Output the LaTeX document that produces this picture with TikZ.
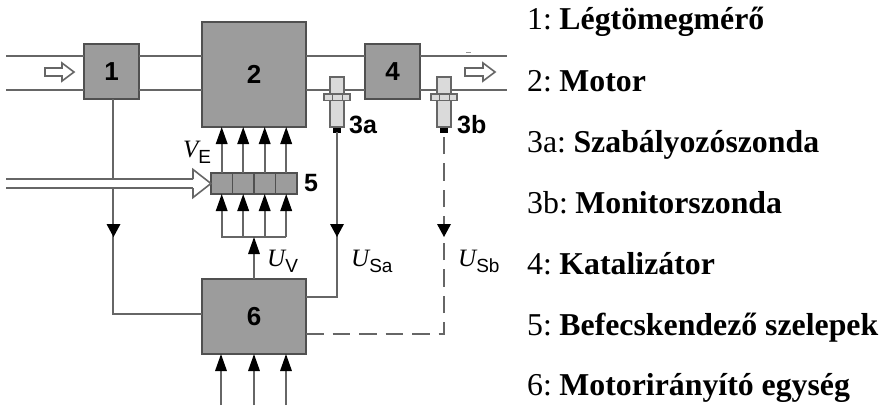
\documentclass[tikz,border=0pt]{standalone}
\usepackage{fontspec}
\setmainfont{Liberation Serif}
\newfontfamily\hv{Liberation Sans}
\usetikzlibrary{arrows.meta}
\definecolor{ln}{HTML}{666666}
\definecolor{bx}{HTML}{9C9C9C}
\definecolor{bxd}{HTML}{505050}
\definecolor{snd}{HTML}{DADADA}
\tikzset{
 x=1pt,y=-1pt,
 conn/.style={draw=ln,line width=1.7pt},
 sig/.style={conn,-{Triangle[length=17pt,width=11.5pt,color=black]}},
 dashwire/.style={conn,dash pattern=on 17.5pt off 9pt},
 block/.style={draw=bxd,fill=bx,line width=1.6pt,inner sep=0,outer sep=0,font=\hv\bfseries\fontsize{26}{26}\selectfont},
 cell/.style={draw=bxd,fill=bx,line width=1.6pt,inner sep=0,outer sep=0,minimum width=21.5pt,minimum height=21pt},
 sens/.style={draw=ln,fill=snd,line width=1.3pt},
 tag/.style={font=\hv\bfseries\fontsize{25}{25}\selectfont,inner sep=0},
 sym/.style={font=\fontsize{25}{25}\selectfont,inner sep=0,anchor=base west},
 leg/.style={font=\fontsize{31.8}{34}\selectfont,inner sep=0,anchor=base west},
 hollow/.style={draw=ln,fill=white,line width=1.6pt,line join=miter},
}
\newcommand{\symtxt}[2]{{\itshape #1}\raisebox{-6.5pt}{\hv\fontsize{19}{19}\selectfont #2}}
\newcommand{\legitem}[2]{#1:\hspace{7.5pt}\textbf{#2}}
\begin{document}
\begin{tikzpicture}
\useasboundingbox (0,0) rectangle (882,407);
\fill[white] (0,0) rectangle (882,407);
% free ends
\foreach \n/\x/\y in {pa/6/56,pb/6/90,pc/507/56,pd/507/90,ha/6/179,hb/6/188,hc/193/179,hd/193/188,ba/221/405,bb/254/405,bc/286/405,busa/221/237,busb/243/237,busc/265/237,busd/286/237,busm/254/237,cornA/113/314,cornB/337/297,cornC/444/334,tipA/337/132,tipB/444/132,gapa/113/179,gapb/113/188}
  \coordinate (\n) at (\x,\y);
% blocks
\node[block,minimum width=55pt,minimum height=55pt] (b1) at (111.5,71.5) {1};
\node[block,minimum width=104pt,minimum height=105pt] (b2) at (254,74.5) {2};
\node[block,minimum width=55pt,minimum height=55pt] (b4) at (392.5,71.5) {4};
\node[block,minimum width=104pt,minimum height=75pt] (b6) at (254,316.5) {6};
\node[cell] (c1) at (221.7,183.5) {};
\node[cell] (c2) at (243.2,183.5) {};
\node[cell] (c3) at (264.7,183.5) {};
\node[cell] (c4) at (286.2,183.5) {};
% pipes
\draw[conn] (pa) -- (pa-|b1.west) (pb) -- (pb-|b1.west);
\draw[conn] (pa-|b1.east) -- (pa-|b2.west) (pb-|b1.east) -- (pb-|b2.west);
\draw[conn] (pa-|b2.east) -- (pa-|b4.west) (pb-|b2.east) -- (pb-|b4.west);
\draw[conn] (pa-|b4.east) -- (pc) (pb-|b4.east) -- (pd);
\draw[ln!70,line width=.8pt] (466,52.6) -- (471,52.6);
% hollow flow arrows
\draw[hollow] (45,68) -- (62,68) -- (62,63) -- (74,72) -- (62,81) -- (62,76) -- (45,76) -- cycle;
\draw[hollow] (465,68) -- (483,68) -- (483,63) -- (495,72) -- (483,81) -- (483,76) -- (465,76) -- cycle;
% connection from 1 to 6
\draw[conn] (gapa|-b1.south) -- (gapa);
\draw[conn] (gapb) -- (cornA) -- (cornA-|b6.west);
\fill (106.5,224) -- (120.5,224) -- (113.5,237) -- cycle;
% injection arrow
\draw[conn] (ha) -- (hc) (hb) -- (hd);
\draw[hollow] (hc) -- (193,169.5) -- (c1.west) -- (193,197.5) -- (hd);
% injectors to motor
\foreach \c in {c1,c2,c3,c4}{
  \draw[sig] (\c.north) -- (\c.north|-b2.south);
}
\draw[conn] (busa) -- (busd);
\foreach \c/\k in {c1/busa,c2/busb,c3/busc,c4/busd}{
  \draw[sig] (\k-|\c.south) -- (\c.south);
}
\draw[sig] (b6.north) -- (busm);
\foreach \k in {ba,bb,bc}{ \draw[sig] (\k) -- (\k|-b6.south); }
% sensors
\foreach \x/\nm in {337/sa,444/sb}{
  \fill[black] (\x-4,126) rectangle (\x+4,133);
  \draw[sens] (\x-7,77) rectangle (\x+7,127);
  \draw[sens] (\x-13,94) rectangle (\x+13,100.5);
  \draw[ln,line width=.7pt] (\x-5,94) -- (\x-5,100.5) (\x+5,94) -- (\x+5,100.5);
}
% signal wires
\draw[conn] (tipA) -- (cornB) -- (cornB-|b6.east);
\fill (330,224) -- (344,224) -- (337,237) -- cycle;
\draw[dashwire] (cornC-|b6.east) -- (cornC) -- (tipB);
\fill (437,224) -- (451,224) -- (444,237) -- cycle;
% labels
\node[tag] (l5) at (311,183) {5};
\node[tag,anchor=west] (l3a) at (349,125) {3a};
\node[tag,anchor=west] (l3b) at (457,125) {3b};
\node[sym] (ve) at (183,157) {\symtxt{V}{E}};
\node[sym] (uv) at (267,266) {\symtxt{U}{V}};
\node[sym] (usa) at (351,266) {\symtxt{U}{Sa}};
\node[sym] (usb) at (458,266) {\symtxt{U}{Sb}};
% legend
\node[leg] (t1) at (527,29) {\legitem{1}{Légtömegmérő}};
\node[leg] (t2) at (527,91) {\legitem{2}{Motor}};
\node[leg] (t3) at (527,152) {\legitem{3a}{Szabályozószonda}};
\node[leg] (t4) at (527,213) {\legitem{3b}{Monitorszonda}};
\node[leg] (t5) at (527,274) {\legitem{4}{Katalizátor}};
\node[leg] (t6) at (527,335) {\legitem{5}{Befecskendező szelepek}};
\node[leg] (t7) at (527,395) {\legitem{6}{Motorirányító egység}};
\end{tikzpicture}
\end{document}
